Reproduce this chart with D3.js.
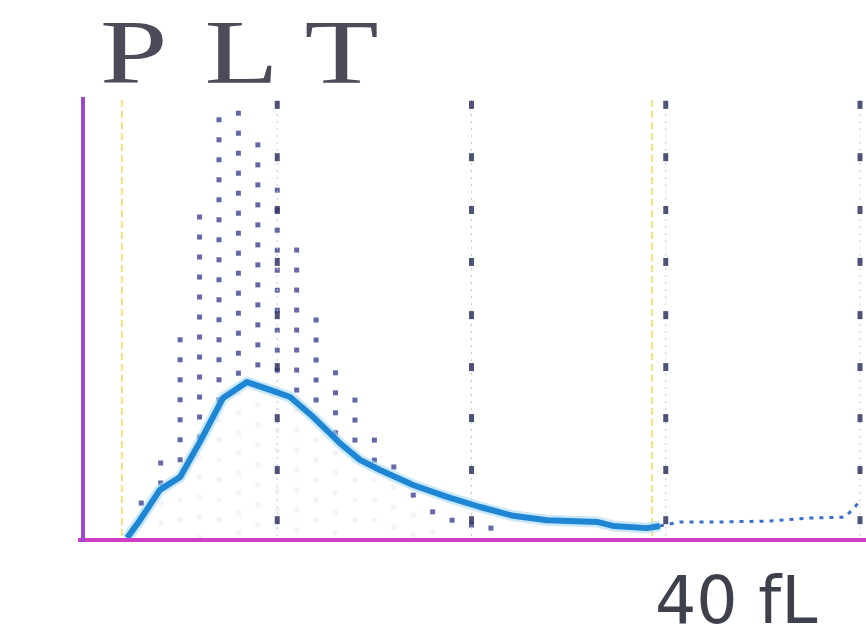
<!DOCTYPE html>
<html>
<head>
<meta charset="utf-8">
<script src="https://cdn.jsdelivr.net/npm/d3@7"></script>
<style>
  body { margin: 0; background: #fff; }
  svg { display: block; }
</style>
</head>
<body>
<svg width="866" height="639"></svg>
<script>
// dotted histogram bins (fL) and column heights (rel. units, 100 = top of frame)
var binFl   = [3, 4, 5, 6, 7, 8, 9, 10, 11, 12, 13, 14, 15, 16, 17, 18, 19, 20, 21];
var binVals = [8.4, 17.5, 45.5, 73.4, 95.5, 97.0, 89.8, 79.5, 65.9, 50.0, 38.0, 31.8, 22.7, 16.6, 10.2, 6.4, 4.5, 3.4, 2.7];

// smoothed curve inside discriminators
var curveFl  = [2.27, 2.93, 3.96, 5.0, 6.02, 7.21, 8.44, 9.63, 10.66, 11.84, 13.23, 14.26, 15.29, 16.99, 18.74, 20.44, 22.14, 23.89, 26.46, 27.28, 29.03, 29.7];
var curveVal = [0.45, 4.5, 11.4, 14.3, 22.3, 32.3, 35.9, 34.1, 32.5, 28.0, 22.0, 18.2, 15.9, 12.5, 9.8, 7.5, 5.5, 4.5, 4.1, 3.2, 2.7, 3.2];

// curve beyond upper discriminator (dotted)
var tailFl  = [29.7, 30.73, 32.8, 35.37, 37.43, 39.23, 39.74, 40];
var tailVal = [3.2, 4.1, 4.1, 4.3, 5.0, 5.2, 7.5, 9.0];

var gridFl = [10, 20, 30, 40];
var gridDotLevels = [98.9, 87.0, 75.0, 63.2, 51.1, 39.3, 27.7, 15.9, 4.5];
var discriminators = [2, 29.3];

var svg = d3.select("svg");

var x = d3.scaleLinear().domain([0, 40]).range([83, 860]);
var y = d3.scaleLinear().domain([0, 100]).range([540, 100]);
var curveAt = d3.scaleLinear().domain(curveFl).range(curveVal).clamp(true);

// title
svg.append("text")
    .attr("transform", "translate(100,83) scale(1.32,1)")
    .attr("font-family", "Liberation Serif, serif")
    .attr("font-size", 92)
    .attr("letter-spacing", 28)
    .attr("fill", "#4b4b5a")
    .text("PLT");

// discriminator lines
svg.append("g").selectAll("line")
    .data(discriminators)
    .enter().append("line")
    .attr("x1", d => x(d)).attr("x2", d => x(d))
    .attr("y1", y(100)).attr("y2", y(0))
    .attr("stroke", "#f3e27a")
    .attr("stroke-width", 2)
    .attr("stroke-dasharray", "7,4");

// histogram dots
var step = 20 / 4.4;
var dots = [];
binFl.forEach(function(f, i){
    var top = binVals[i];
    for (var v = top, k = 0; v > 0.5; v -= step, k++){
        dots.push({f: f, v: v, first: k == 0});
    }
});
svg.append("g")
    .selectAll("rect")
    .data(dots)
    .enter().append("rect")
    .attr("x", d => x(d.f) - 2.5)
    .attr("y", d => y(d.v) - 2.5)
    .attr("width", 5)
    .attr("height", 5)
    .attr("fill", "#3c4290")
    .attr("opacity", d => (d.v > curveAt(d.f) + 1 || d.first) ? 0.8 : 0.06);

// gridlines: faint dotted line + dark dots
var grid = svg.append("g");
grid.selectAll("line")
    .data(gridFl)
    .enter().append("line")
    .attr("x1", d => x(d)).attr("x2", d => x(d))
    .attr("y1", y(100)).attr("y2", y(0))
    .attr("stroke", "#c5c9de")
    .attr("stroke-width", 1)
    .attr("stroke-dasharray", "2,5");
var gdots = [];
gridFl.forEach(f => gridDotLevels.forEach(v => gdots.push({f: f, v: v})));
grid.selectAll("rect")
    .data(gdots)
    .enter().append("rect")
    .attr("x", d => x(d.f) - 2.5)
    .attr("y", d => y(d.v) - 4)
    .attr("width", 5)
    .attr("height", 8)
    .attr("fill", "#2f3560")
    .attr("opacity", 0.85);

// curve
var line = d3.line()
    .x(d => x(d[0]))
    .y(d => y(d[1]));
var pts = curveFl.map((f, i) => [f, curveVal[i]]);
var tpts = tailFl.map((f, i) => [f, tailVal[i]]);

svg.append("path")
    .attr("d", line(pts))
    .attr("fill", "none")
    .attr("stroke", "#a6d8f7")
    .attr("stroke-width", 11)
    .attr("stroke-linejoin", "round")
    .attr("opacity", 0.6);
svg.append("path")
    .attr("d", line(pts))
    .attr("fill", "none")
    .attr("stroke", "#1f86d4")
    .attr("stroke-width", 6)
    .attr("stroke-linejoin", "round");
svg.append("path")
    .attr("d", line(tpts))
    .attr("fill", "none")
    .attr("stroke", "#3a70c8")
    .attr("stroke-width", 3)
    .attr("stroke-dasharray", "4,6");

// axes frame
svg.append("line")
    .attr("x1", 78).attr("x2", 866)
    .attr("y1", y(0)).attr("y2", y(0))
    .attr("stroke", "#cf3fc4")
    .attr("stroke-width", 4);
svg.append("line")
    .attr("x1", x(0)).attr("x2", x(0))
    .attr("y1", 97).attr("y2", y(0) + 2)
    .attr("stroke", "#9a48d2")
    .attr("stroke-width", 4);

// unit label
svg.append("text")
    .attr("x", 655)
    .attr("y", 623)
    .attr("font-family", "DejaVu Sans, sans-serif")
    .attr("font-size", 65)
    .attr("fill", "#3e404c")
    .text("40 fL");
</script>
</body>
</html>
